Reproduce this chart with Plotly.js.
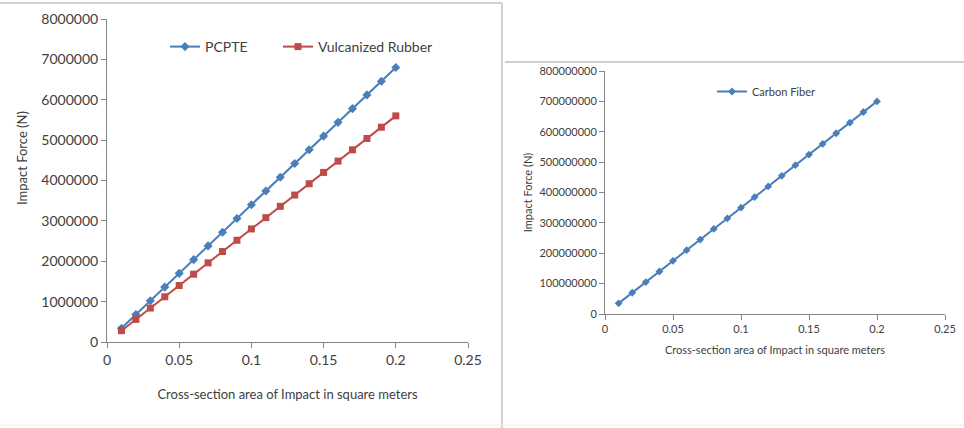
<!DOCTYPE html>
<html>
<head>
<meta charset="utf-8">
<script src="https://cdn.plot.ly/plotly-3.0.1.min.js"></script>
<style>html,body{margin:0;padding:0;background:#fff;}#chart{width:964px;height:428px;}</style>
</head>
<body>
<div id="chart"></div>
<script>
const area = [0.01,0.02,0.03,0.04,0.05,0.06,0.07,0.08,0.09,0.1,0.11,0.12,0.13,0.14,0.15,0.16,0.17,0.18,0.19,0.2];
const pcpte = [340000,680000,1020000,1360000,1700000,2040000,2380000,2720000,3060000,3400000,3740000,4080000,4420000,4760000,5100000,5440000,5780000,6120000,6460000,6800000];
const rubber = [280000,560000,840000,1120000,1400000,1680000,1960000,2240000,2520000,2800000,3080000,3360000,3640000,3920000,4200000,4480000,4760000,5040000,5320000,5600000];
const carbon = [35000000,70000000,105000000,140000000,175000000,210000000,245000000,280000000,315000000,350000000,385000000,420000000,455000000,490000000,525000000,560000000,595000000,630000000,665000000,700000000];
const xTitle = 'Cross-section area of Impact in square meters';
const yTitle = 'Impact Force (N)';

const W = 964, H = 428;
const px = v => v / W;
const py = v => 1 - v / H;
const FONT = 'Lato, "Open Sans", sans-serif';
const TXT = '#404040';

const traces = [
  {x: area, y: pcpte, name: 'PCPTE', type: 'scatter', mode: 'lines+markers',
   line: {color: '#4A7EBB', width: 2}, marker: {symbol: 'diamond', size: 7, color: '#4A7EBB'},
   xaxis: 'x', yaxis: 'y', legend: 'legend'},
  {x: area, y: rubber, name: 'Vulcanized Rubber', type: 'scatter', mode: 'lines+markers',
   line: {color: '#BE4B48', width: 2}, marker: {symbol: 'square', size: 7, color: '#BE4B48'},
   xaxis: 'x', yaxis: 'y', legend: 'legend3'},
  {x: area, y: carbon, name: 'Carbon Fiber', type: 'scatter', mode: 'lines+markers',
   line: {color: '#4A7EBB', width: 2}, marker: {symbol: 'diamond', size: 6, color: '#4A7EBB'},
   xaxis: 'x2', yaxis: 'y2', legend: 'legend2'}
];

const axBase = {
  showgrid: false, zeroline: false, showline: true, linecolor: '#868686', linewidth: 1,
  ticks: 'outside', ticklen: 5, tickcolor: '#868686', tickfont: {family: FONT, color: TXT}
};

const legBase = {orientation: 'h', xanchor: 'left', yanchor: 'top', bgcolor: 'rgba(0,0,0,0)', itemwidth: 30};

const layout = {
  width: W, height: H,
  margin: {l: 0, r: 0, t: 0, b: 0},
  paper_bgcolor: '#fff', plot_bgcolor: '#fff',
  showlegend: true,
  font: {family: FONT, color: TXT},
  xaxis: Object.assign({}, axBase, {
    domain: [px(107), px(468)], anchor: 'y', range: [0, 0.25], dtick: 0.05, tick0: 0,
    tickfont: {family: FONT, size: 14, color: TXT},
    title: {text: xTitle, font: {family: FONT, size: 13, color: TXT}, standoff: 23}
  }),
  yaxis: Object.assign({}, axBase, {
    domain: [py(342), py(19)], anchor: 'x', range: [0, 8000000], dtick: 1000000, tickformat: 'd',
    tickfont: {family: FONT, size: 14, color: TXT}
  }),
  xaxis2: Object.assign({}, axBase, {
    domain: [px(605), px(945)], anchor: 'y2', range: [0, 0.25], dtick: 0.05, tick0: 0,
    tickfont: {family: FONT, size: 11, color: TXT},
    title: {text: xTitle, font: {family: FONT, size: 11, color: TXT}, standoff: 12}
  }),
  yaxis2: Object.assign({}, axBase, {
    domain: [py(314), py(71)], anchor: 'x2', range: [0, 800000000], dtick: 100000000, tickformat: 'd',
    tickfont: {family: FONT, size: 11, color: TXT},
    title: {text: yTitle, font: {family: FONT, size: 11, color: TXT}, standoff: 4}
  }),
  legend: Object.assign({}, legBase, {x: px(165), y: py(31), font: {family: FONT, size: 14, color: TXT}}),
  legend3: Object.assign({}, legBase, {x: px(278), y: py(31), font: {family: FONT, size: 14, color: TXT}}),
  legend2: Object.assign({}, legBase, {x: px(712), y: py(77), font: {family: FONT, size: 11, color: TXT}}),
  annotations: [
    {text: yTitle, xref: 'paper', yref: 'paper', x: px(22), y: py(158), textangle: -90,
     showarrow: false, xanchor: 'center', yanchor: 'middle', font: {family: FONT, size: 13, color: TXT}}
  ],
  shapes: [
    {type: 'line', xref: 'paper', yref: 'paper', x0: 0, x1: px(502), y0: py(3), y1: py(3), line: {color: '#d0d0d0', width: 2}},
    {type: 'line', xref: 'paper', yref: 'paper', x0: px(502), x1: px(502), y0: py(3), y1: 0, line: {color: '#d0d0d0', width: 2}},
    {type: 'line', xref: 'paper', yref: 'paper', x0: 0, x1: 1, y0: py(425), y1: py(425), line: {color: '#ececec', width: 1}},
    {type: 'line', xref: 'paper', yref: 'paper', x0: px(505), x1: 1, y0: py(62), y1: py(62), line: {color: '#d0d0d0', width: 2}}
  ]
};

Plotly.newPlot('chart', traces, layout, {displayModeBar: false, staticPlot: true});
</script>
</body>
</html>
